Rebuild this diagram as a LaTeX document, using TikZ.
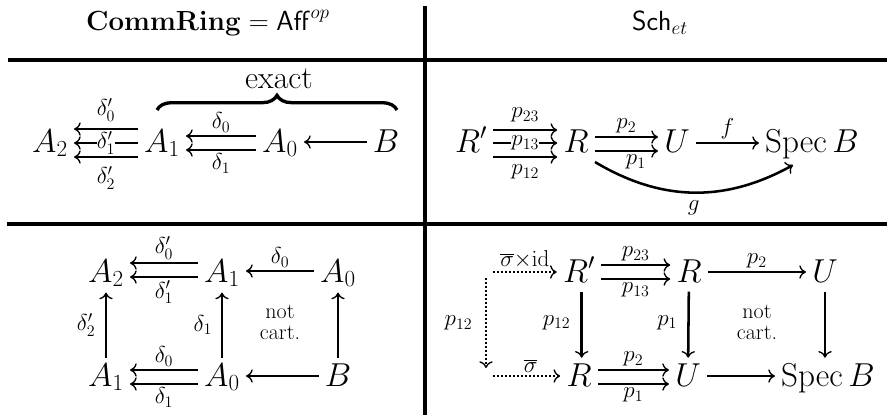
\documentclass[tikz,border=0pt]{standalone}
\usetikzlibrary{arrows.meta,calc,decorations.pathreplacing}
\begin{document}
\begin{tikzpicture}[x=0.75pt,y=-0.75pt,
  obj/.style={font=\fontsize{24}{28}\selectfont, anchor=base, inner xsep=4.5pt, inner ysep=4pt},
  hdr/.style={font=\fontsize{20}{24}\selectfont, anchor=base},
  lbl/.style={font=\fontsize{18.5}{22}\selectfont, inner sep=2pt},
  note/.style={font=\fontsize{16.5}{15.5}\selectfont, align=center},
  tipstyle/.style={-{Computer Modern Rightarrow[length=5pt,width=10pt,line width=1pt]}},
  ar/.style={line width=1.9pt, tipstyle},
  dotar/.style={line width=1.5pt, dash pattern=on 1.5pt off 1.5pt, tipstyle},
  rulel/.style={line width=2.3pt},
]
\useasboundingbox (0,0) rectangle (887,415);
% table rules
\draw[rulel] (425,6) -- (425,415);
\draw[rulel] (8,60) -- (887,60);
\draw[rulel] (7,224) -- (887,224);
% headers
\node[hdr] (h1) at (208,30) {$\mathbf{CommRing}=\mathsf{Aff}^{op}$};
\node[hdr] (h2) at (660,30) {$\mathsf{Sch}_{et}$};

% ---------- row 2 left ----------
\node[obj] (a2) at (50,152) {$A_2$};
\node[obj] (a1) at (162,152) {$A_1$};
\node[obj] (a0) at (280,152) {$A_0$};
\node[obj] (b) at (386,152) {$B$};
\draw[ar] ($(a1.base west)+(0,-9)$) -- node[lbl,fill=white,inner sep=0pt]{$\delta'_1$} ($(a2.base east)+(0,-9)$);
\draw[ar] ($(a1.base west)+(0,-23)$) -- node[lbl,above=3pt]{$\delta'_0$} ($(a2.base east)+(0,-23)$);
\draw[ar] ($(a1.base west)+(0,5)$) -- node[lbl,below=4pt]{$\delta'_2$} ($(a2.base east)+(0,5)$);
\draw[ar] ($(a0.base west)+(0,-16)$) -- node[lbl,above]{$\delta_0$} ($(a1.base east)+(0,-16)$);
\draw[ar] ($(a0.base west)+(0,-2)$) -- node[lbl,below]{$\delta_1$} ($(a1.base east)+(0,-2)$);
\draw[ar] ($(b.base west)+(0,-10)$) -- ($(a0.base east)+(0,-10)$);
\draw[decorate, decoration={brace, amplitude=11pt}, line width=2.5pt] (157,110) -- (397,110);
\node[obj] (ex) at (279,88) {exact};

% ---------- row 2 right ----------
\node[obj] (rp) at (471,152) {$R'$};
\node[obj] (r) at (576,152) {$R$};
\node[obj] (u) at (677,152) {$U$};
\node[obj] (sb) at (812,152) {$\mathrm{Spec}\,B$};
\draw[ar] ($(rp.base east)+(0,-9)$) -- node[lbl,fill=white,inner sep=0pt]{$p_{13}$} ($(r.base west)+(0,-9)$);
\draw[ar] ($(rp.base east)+(0,-22)$) -- node[lbl,above=3pt]{$p_{23}$} ($(r.base west)+(0,-22)$);
\draw[ar] ($(rp.base east)+(0,5)$) -- node[lbl,below=3pt]{$p_{12}$} ($(r.base west)+(0,5)$);
\draw[ar] ($(r.base east)+(0,-15)$) -- node[lbl,above]{$p_2$} ($(u.base west)+(0,-15)$);
\draw[ar] ($(r.base east)+(0,-1)$) -- node[lbl,below,pos=0.65]{$p_1$} ($(u.base west)+(0,-1)$);
\draw[ar] ($(u.base east)+(0,-9)$) -- node[lbl,above]{$f$} ($(sb.base west)+(0,-9)$);
\draw[ar] ($(r.base)+(19,10)$) to[bend right=30] node[lbl,below=3pt]{$g$} ($(sb.base)+(-19,13)$);

% ---------- row 3 left ----------
\node[obj] (a2t) at (106,282) {$A_2$};
\node[obj] (a1t) at (222,282) {$A_1$};
\node[obj] (a0t) at (338,282) {$A_0$};
\node[obj] (a1b) at (106,386) {$A_1$};
\node[obj] (a0b) at (222,386) {$A_0$};
\node[obj] (bb) at (338,386) {$B$};
\draw[ar] ($(a1t.base west)+(0,-19)$) -- node[lbl,above]{$\delta'_0$} ($(a2t.base east)+(0,-19)$);
\draw[ar] ($(a1t.base west)+(0,-5)$) -- node[lbl,below]{$\delta'_1$} ($(a2t.base east)+(0,-5)$);
\draw[ar] ($(a0t.base west)+(0,-11)$) -- node[lbl,above]{$\delta_0$} ($(a1t.base east)+(0,-11)$);
\draw[ar] ($(a0b.base west)+(0,-16)$) -- node[lbl,above]{$\delta_0$} ($(a1b.base east)+(0,-16)$);
\draw[ar] ($(a0b.base west)+(0,-2)$) -- node[lbl,below]{$\delta_1$} ($(a1b.base east)+(0,-2)$);
\draw[ar] ($(bb.base west)+(0,-10)$) -- ($(a0b.base east)+(0,-10)$);
\draw[ar] (a1b) -- node[lbl,left=5pt]{$\delta'_2$} (a2t);
\draw[ar] (a0b) -- node[lbl,left=4.5pt]{$\delta_1$} (a1t);
\draw[ar] (bb) -- (a0t);
\node[note] (nc1) at (280,322) {not\\cart.};

% ---------- row 3 right ----------
\node[obj] (rpt) at (579,282) {$R'$};
\node[obj] (rt) at (689,282) {$R$};
\node[obj] (ut) at (825,282) {$U$};
\node[obj] (rb) at (579,386) {$R$};
\node[obj] (ub) at (688,386) {$U$};
\node[obj] (sbb) at (828,386) {$\mathrm{Spec}\,B$};
\draw[ar] ($(rpt.base east)+(0,-17)$) -- node[lbl,above]{$p_{23}$} ($(rt.base west)+(0,-17)$);
\draw[ar] ($(rpt.base east)+(0,-3)$) -- node[lbl,below]{$p_{13}$} ($(rt.base west)+(0,-3)$);
\draw[ar] ($(rt.base east)+(0,-10)$) -- node[lbl,above]{$p_2$} ($(ut.base west)+(0,-10)$);
\draw[ar] ($(rb.base east)+(0,-16)$) -- node[lbl,above]{$p_2$} ($(ub.base west)+(0,-16)$);
\draw[ar] ($(rb.base east)+(0,-2)$) -- node[lbl,below]{$p_1$} ($(ub.base west)+(0,-2)$);
\draw[ar] ($(ub.base east)+(0,-10)$) -- ($(sbb.base west)+(0,-10)$);
\draw[ar,shorten <=3pt] ([xshift=2pt]rpt.south) -- node[lbl,left=5.5pt]{$p_{12}$} ([xshift=2pt]rb.north);
\draw[ar,shorten <=3pt] (rt) -- node[lbl,left=5.5pt]{$p_1$} (ub);
\draw[ar,shorten <=3pt] (ut) -- (sbb.north -| ut);
\node[note] (nc2) at (757,322) {not\\cart.};
% dotted
\coordinate (dtl) at (493,272);
\coordinate (dvt) at (486,278);
\coordinate (dvb) at (486,368);
\coordinate (dbl) at (493,376);
\draw[dotar] (dtl) -- node[lbl,above]{$\overline{\sigma}{\times}\mathrm{id}$} ($(rpt.base west)+(0,-10)$);
\draw[dotar] (dvt) -- node[lbl,left=7.5pt]{$p_{12}$} (dvb);
\draw[dotar] (dbl) -- node[lbl,above,pos=0.56]{$\overline{\sigma}$} ($(rb.base west)+(0,-10)$);
\end{tikzpicture}
\end{document}
